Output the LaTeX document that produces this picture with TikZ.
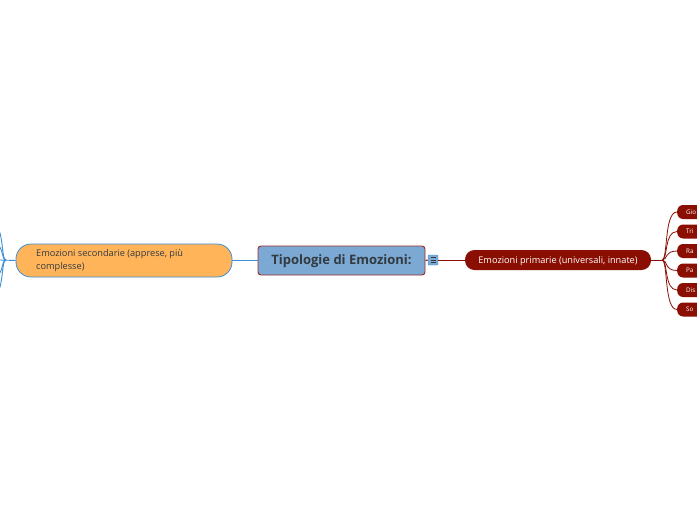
\documentclass[tikz,border=0pt]{standalone}
\usepackage{fontspec}
\setmainfont{Open Sans}
\definecolor{cblue}{HTML}{7BA9D3}
\definecolor{cred}{HTML}{8A0E02}
\definecolor{cborder}{HTML}{9A2A2A}
\definecolor{corange}{HTML}{FFB45A}
\definecolor{cline}{HTML}{3D8ED4}
\definecolor{ctext}{HTML}{333A40}
\begin{document}
\begin{tikzpicture}[x=1pt,y=-1pt,
  central/.style={draw=cborder,line width=0.9pt,fill=cblue,rounded corners=3pt,minimum width=167pt,minimum height=29pt,inner sep=0pt,font=\fontsize{13}{15}\selectfont\bfseries,text=ctext,text depth=1pt},
  primary/.style={fill=cred,rounded corners=9.5pt,minimum width=186pt,minimum height=20pt,inner sep=0pt,font=\fontsize{9.2}{10}\selectfont,text=white,text depth=0.5pt},
  secondary/.style={draw=cline,line width=0.8pt,fill=corange,rounded corners=15pt,minimum width=216pt,minimum height=33pt,inner sep=0pt},
  stext/.style={anchor=north west,font=\fontsize{9.2}{13}\selectfont,text=ctext,inner sep=0pt,align=left},
  leaf/.style={fill=cred,rounded corners=6pt,minimum width=30pt,minimum height=14pt,inner xsep=9pt,inner ysep=0pt,font=\fontsize{6.3}{7}\selectfont,text=white,anchor=west,text width=20pt,align=left},
  redline/.style={draw=cred,line width=1pt},
  blueline/.style={draw=cline,line width=0.9pt},
  iconbox/.style={fill=cblue,draw=cline,line width=0.4pt,rounded corners=1pt,minimum size=10pt,inner sep=0pt}
]
\useasboundingbox (0,0) rectangle (697,520);
\clip (0,0) rectangle (697,520);
\fill[white] (0,0) rectangle (697,520);

\coordinate (rj) at (662,260);
\coordinate (lj) at (6,260);

\node[central] (c) at (341.5,260.5) {Tipologie di Emozioni:};
\node[primary] (p) at (558,260) {Emozioni primarie (universali, innate)};
\node[secondary] (s) at (124,260.5) {};
\node[stext] (stx) at (36,249.5) {Emozioni secondarie (apprese, più\\complesse)};
\node[iconbox] (icon) at (433,260) {};
\draw[ctext,line width=0.5pt] (430.5,257.5) -- (435.5,257.5) (430.5,260) -- (435.5,260) (430.5,262.5) -- (435.5,262.5);

\foreach \n/\yy/\t in {l1/212/Gio,l2/231.5/Tri,l3/251/Ra,l4/270.5/Pa,l5/290/Dis,l6/309.5/So}{
  \node[leaf] (\n) at (677,\yy) {\t};
  \draw[redline,line width=0.8pt] (rj) .. controls (668,260) and (664,\yy) .. (\n.west);
}

\draw[redline] (c.east) -- (icon.west);
\draw[redline] (icon.east) -- (p.west);
\draw[redline] (p.east) -- (rj);

\draw[blueline] (s.east) -- (c.west);
\draw[blueline] (s.west) -- (0,260);
\foreach \n/\yy in {a1/218,a2/240,a3/280,a4/302}{
  \coordinate (\n) at (-14,\yy);
  \draw[blueline] (lj) .. controls (0,260) and (6,\yy) .. (\n);
}
\end{tikzpicture}
\end{document}
